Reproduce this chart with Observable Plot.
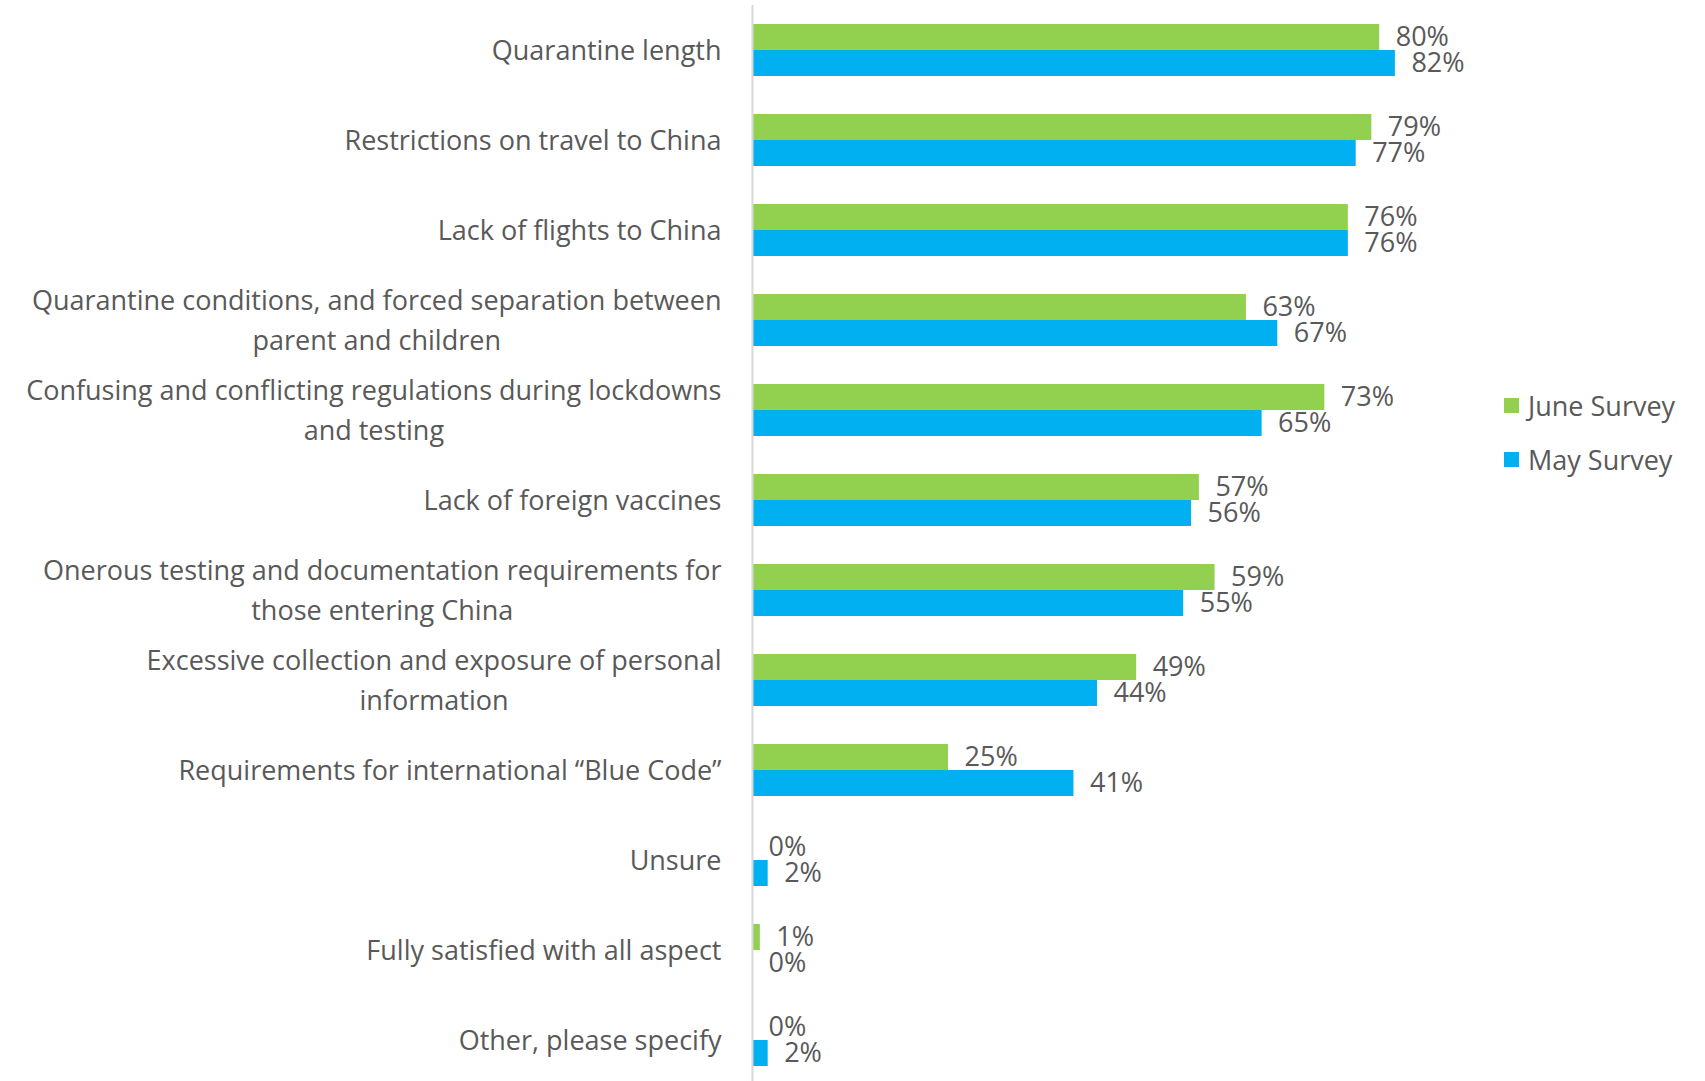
<!DOCTYPE html>
<html><head><meta charset="utf-8">
<script src="https://cdn.jsdelivr.net/npm/d3@7"></script>
<script src="https://cdn.jsdelivr.net/npm/@observablehq/plot@0.6"></script>
<style>
body{margin:0;background:#fff;overflow:hidden;}
#wrap{position:relative;width:1705px;height:1081px;font-family:"Open Sans",sans-serif;}
#legend{position:absolute;left:1504px;top:378px;color:#595959;font-size:27px;}
.li{display:flex;align-items:center;height:54px;white-space:nowrap}
.sw{width:15px;height:15px;margin-right:9px;flex:none}
</style></head><body><div id="wrap"><div id="legend"></div></div>
<script>
const categories = [
  "Quarantine length",
  "Restrictions on travel to China",
  "Lack of flights to China",
  "Quarantine conditions, and forced separation between\nparent and children",
  "Confusing and conflicting regulations during lockdowns\nand testing",
  "Lack of foreign vaccines",
  "Onerous testing and documentation requirements for\nthose entering China",
  "Excessive collection and exposure of personal\ninformation",
  "Requirements for international \u201cBlue Code\u201d",
  "Unsure",
  "Fully satisfied with all aspect",
  "Other, please specify"
];
const series = ["June Survey", "May Survey"];
const juneValues = [80, 79, 76, 63, 73, 57, 59, 49, 25, 0, 1, 0];
const mayValues  = [82, 77, 76, 67, 65, 56, 55, 44, 41, 2, 0, 2];
const seriesColors = ["#92D050", "#00B0F0"];

const rows = categories.flatMap((c, i) => [
  {cat: c, series: series[0], value: juneValues[i]},
  {cat: c, series: series[1], value: mayValues[i]}
]);

const chart = Plot.plot({
  width: 1705,
  height: 1081,
  marginTop: 5,
  marginBottom: -4,
  marginLeft: 752,
  marginRight: 169,
  facet: {data: rows, y: "cat"},
  fy: {domain: categories, padding: 0, axis: null, label: null},
  y: {domain: series, paddingInner: 0, paddingOuter: 0.72, axis: null, label: null},
  x: {domain: [0, 100], axis: null},
  color: {domain: series, range: seriesColors},
  style: {fontFamily: "'Open Sans', sans-serif", fontSize: "27px", color: "#595959", background: "#fff", overflow: "visible"},
  marks: [
    Plot.barX(rows, {x: "value", y: "series", fill: "series"}),
    Plot.ruleX([0], {stroke: "#d9d9d9", strokeWidth: 2}),
    Plot.text(rows, {x: "value", y: "series", text: d => d.value + "%", dx: 16, textAnchor: "start", fill: "#595959"}),
    Plot.text(rows, {filter: d => d.series === series[0], x: () => 0, text: "cat", textAnchor: "end", dx: -31, dy: -3, lineHeight: 1.48, fill: "#595959"})
  ]
});
const wrap = document.getElementById("wrap");
wrap.insertBefore(chart, wrap.firstChild);

// center lines of wrapped labels within their right-aligned block
chart.querySelectorAll("text").forEach(t => {
  const spans = t.querySelectorAll("tspan");
  if (spans.length > 1) {
    let w = 0;
    spans.forEach(s => { w = Math.max(w, s.getComputedTextLength()); });
    t.setAttribute("text-anchor", "middle");
    spans.forEach(s => s.setAttribute("x", -w / 2));
  }
});

const legend = document.getElementById("legend");
series.forEach((s, i) => {
  const row = document.createElement("div");
  row.className = "li";
  const sw = document.createElement("span");
  sw.className = "sw";
  sw.style.background = seriesColors[i];
  const lab = document.createElement("span");
  lab.textContent = s;
  row.appendChild(sw);
  row.appendChild(lab);
  legend.appendChild(row);
});
</script>
</body></html>
